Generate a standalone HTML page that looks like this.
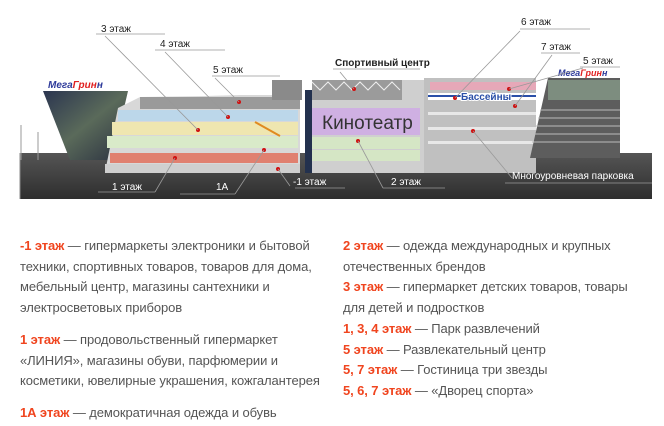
<!DOCTYPE html>
<html><head><meta charset="utf-8"><style>
body{margin:0;width:664px;height:426px;background:#fff;overflow:hidden;position:relative;font-family:"Liberation Sans","Noto Sans CJK SC",sans-serif}
.t{position:absolute;font-size:13px;line-height:20.7px;color:#555;letter-spacing:-0.1px}
.t p{margin:0}
.r{color:#f0451f;font-weight:bold}
svg{position:absolute;left:0;top:0}
</style></head><body>
<svg width="664" height="210" viewBox="0 0 664 210" font-family="Liberation Sans, sans-serif">
<defs>
<linearGradient id="gr" x1="0" y1="0" x2="0" y2="1"><stop offset="0" stop-color="#555"/><stop offset="1" stop-color="#2e2e2e"/></linearGradient>
<linearGradient id="cone" x1="0" y1="0" x2="1" y2="1"><stop offset="0" stop-color="#2b3550"/><stop offset=".5" stop-color="#5a6a5a"/><stop offset="1" stop-color="#2a3040"/></linearGradient>
</defs>
<rect x="20" y="153" width="632" height="46" fill="url(#gr)"/>
<line x1="20" y1="153" x2="20" y2="199" stroke="#888"/>
<line x1="21" y1="125" x2="21" y2="160" stroke="#999"/><line x1="38" y1="132" x2="38" y2="160" stroke="#999"/>
<polygon points="43,91 128,91 112,160 70,160" fill="url(#cone)"/>
<text x="48" y="88" font-size="10" font-weight="bold" font-style="italic" fill="#2d3a9a">Мега<tspan fill="#e02020">Грин</tspan><tspan fill="#2d3a9a">н</tspan></text>
<polygon points="105,172 118,108 140,97 205,96 240,95 300,95 300,173" fill="#d8d8d8"/>
<rect x="140" y="97" width="160" height="12" fill="#9a9a9a"/>
<rect x="118" y="110" width="180" height="11" fill="#bcd7ea"/>
<rect x="112" y="122" width="186" height="13" fill="#efe6b0"/>
<rect x="107" y="136" width="191" height="12" fill="#d9eac9"/>
<rect x="110" y="153" width="188" height="10" fill="#e08070"/>
<rect x="105" y="164" width="195" height="9" fill="#cfcfcf"/>
<line x1="255" y1="122" x2="280" y2="136" stroke="#e08a20" stroke-width="2"/>
<rect x="272" y="80" width="30" height="20" fill="#8a8a8a"/>
<rect x="305" y="90" width="8" height="83" fill="#23314e"/>
<rect x="312" y="80" width="112" height="93" fill="#cfcfcf"/>
<rect x="312" y="80" width="90" height="20" fill="#9b9b9b"/>
<path d="M312 82 L320 90 L328 82 L336 90 L344 82 L352 90 L360 82 L368 90 L376 82 L384 90 L392 82 L400 90" stroke="#eee" fill="none"/>
<rect x="312" y="108" width="108" height="27" fill="#cfb0e2"/>
<rect x="312" y="137" width="108" height="12" fill="#d5e6c5"/>
<rect x="312" y="150" width="108" height="11" fill="#d5e6c5"/>
<text x="322" y="129" font-size="19" fill="#333">Кинотеатр</text>
<rect x="424" y="78" width="112" height="95" fill="#c0c0c0"/>
<rect x="430" y="82" width="106" height="8" fill="#e6a8b8"/>
<rect x="428" y="93" width="108" height="7" fill="#fff"/>
<line x1="428" y1="96" x2="536" y2="96" stroke="#2a4fa8" stroke-width="2"/>
<text x="461" y="100" font-size="10" font-weight="bold" fill="#2a4fa8" stroke="#fff" stroke-width="2" paint-order="stroke">Бассейны</text>
<rect x="428" y="112" width="108" height="3" fill="#e8e8e8"/><rect x="428" y="127" width="108" height="3" fill="#e8e8e8"/><rect x="428" y="141" width="108" height="3" fill="#e8e8e8"/>
<polygon points="548,78 620,78 620,158 530,158" fill="#5d5d5d"/>
<rect x="548" y="80" width="72" height="20" fill="#7d8d7f"/>
<g stroke="#bbb"><line x1="540" y1="110" x2="620" y2="110"/><line x1="538" y1="118" x2="620" y2="118"/><line x1="536" y1="126" x2="620" y2="126"/><line x1="534" y1="134" x2="620" y2="134"/><line x1="532" y1="142" x2="620" y2="142"/></g>
<text x="558" y="76" font-size="9" font-weight="bold" font-style="italic" fill="#2d3a9a">Мега<tspan fill="#e02020">Грин</tspan><tspan fill="#2d3a9a">н</tspan></text>
<g fill="#d01010"><circle cx="239" cy="102" r="2"/><circle cx="228" cy="117" r="2"/><circle cx="198" cy="130" r="2"/><circle cx="264" cy="150" r="2"/><circle cx="175" cy="158" r="2"/><circle cx="278" cy="169" r="2"/><circle cx="354" cy="89" r="2"/><circle cx="358" cy="141" r="2"/><circle cx="509" cy="89" r="2"/><circle cx="455" cy="98" r="2"/><circle cx="515" cy="106" r="2"/><circle cx="473" cy="131" r="2"/></g>
<g stroke="#999" stroke-width="0.8" fill="none">
<polyline points="96,34 165,34"/><polyline points="105,36 198,130"/>
<polyline points="155,50 225,50"/><polyline points="165,52 228,117"/>
<polyline points="212,76 280,76"/><polyline points="215,78 239,102"/>
<polyline points="333,69 420,69"/><polyline points="340,72 354,89"/>
<polyline points="520,29 590,29"/><polyline points="520,31 455,98"/>
<polyline points="541,53 580,53"/><polyline points="552,55 515,106"/>
<polyline points="580,67 620,67"/><polyline points="583,68 509,89"/>
<polyline points="98,192 155,192"/><polyline points="155,192 175,158"/>
<polyline points="180,194 235,194"/><polyline points="235,194 264,150"/>
<polyline points="295,188 345,188"/><polyline points="290,186 278,169"/>
<polyline points="383,188 445,188"/><polyline points="383,188 358,141"/>
<polyline points="505,183 652,183"/><polyline points="512,178 473,131"/>
</g>
<g font-size="10" fill="#222">
<text x="101" y="32">3 этаж</text><text x="160" y="47">4 этаж</text><text x="213" y="73">5 этаж</text>
<text x="335" y="66" font-weight="bold">Спортивный центр</text>
<text x="521" y="25">6 этаж</text><text x="541" y="50">7 этаж</text><text x="583" y="64">5 этаж</text>
</g>
<g font-size="10" fill="#fff">
<text x="112" y="190">1 этаж</text><text x="216" y="190">1A</text><text x="293" y="185">-1 этаж</text><text x="391" y="185">2 этаж</text><text x="512" y="179">Многоуровневая парковка</text>
</g>
</svg>
<div class="t" style="left:20px;top:236px;width:320px">
<p><span class="r">-1 этаж</span> — гипермаркеты электроники и бытовой техники, спортивных товаров, товаров для дома, мебельный центр, магазины сантехники и электросветовых приборов</p>
<p style="margin-top:11px"><span class="r">1 этаж</span> — продовольственный гипермаркет «ЛИНИЯ», магазины обуви, парфюмерии и косметики, ювелирные украшения, кожгалантерея</p>
<p style="margin-top:11px"><span class="r">1А этаж</span> — демократичная одежда и обувь</p>
</div>
<div class="t" style="left:343px;top:236px;width:290px">
<p><span class="r">2 этаж</span> — одежда международных и крупных отечественных брендов</p>
<p><span class="r">3 этаж</span> — гипермаркет детских товаров, товары для детей и подростков</p>
<p><span class="r">1, 3, 4 этаж</span> — Парк развлечений</p>
<p><span class="r">5 этаж</span> — Развлекательный центр</p>
<p><span class="r">5, 7 этаж</span> — Гостиница три звезды</p>
<p><span class="r">5, 6, 7 этаж</span> — «Дворец спорта»</p>
</div>
</body></html>
